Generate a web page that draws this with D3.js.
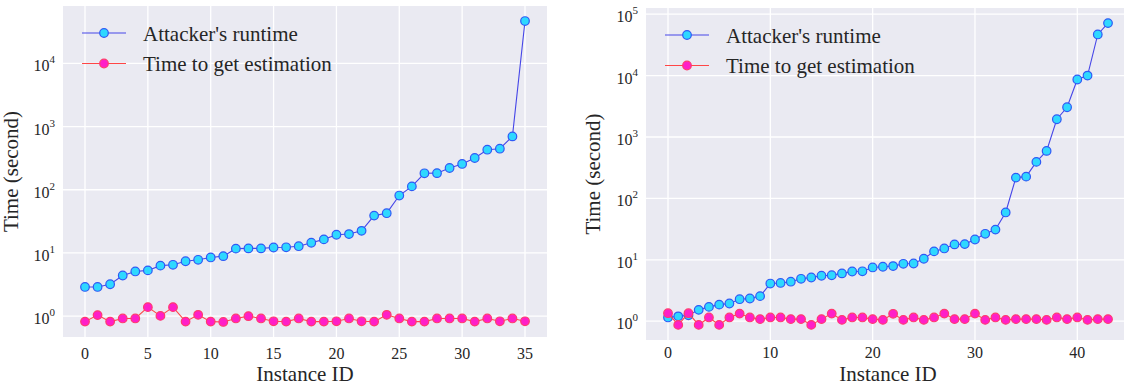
<!DOCTYPE html>
<html lang="en">
<head>
<meta charset="utf-8">
<title>Attacker runtime vs estimation time</title>
<script src="https://d3js.org/d3.v7.min.js"></script>
<style>
  body { margin: 0; background: #fff; }
  text { font-family: "Liberation Serif", "DejaVu Serif", serif; fill: #262626; }
</style>
</head>
<body>
<script>
// left panel: 36 instances
var leftRuntime = [2.9, 2.9, 3.2, 4.4, 5.1, 5.3, 6.3, 6.5, 7.4, 7.8, 8.5, 8.9,
  11.7, 11.8, 11.8, 12.2, 12.3, 12.8, 14.5, 16.4, 19.4, 19.9, 22.4, 39, 42.6,
  81, 113, 182, 183, 221, 256, 318, 430, 446, 698, 46700];
var leftEstimate = [0.82, 1.04, 0.82, 0.92, 0.92, 1.39, 1.01, 1.39, 0.82, 1.05,
  0.82, 0.81, 0.92, 1.0, 0.92, 0.83, 0.82, 0.92, 0.82, 0.82, 0.83, 0.92, 0.83,
  0.82, 1.05, 0.92, 0.82, 0.82, 0.92, 0.92, 0.92, 0.82, 0.92, 0.83, 0.92, 0.83];
var leftTicks = [0, 5, 10, 15, 20, 25, 30, 35];

// right panel: 44 instances
var rightRuntime = [1.15, 1.2, 1.25, 1.53, 1.71, 1.86, 1.94, 2.28, 2.34, 2.56,
  4.1, 4.2, 4.4, 4.9, 5.15, 5.5, 5.6, 6.0, 6.45, 6.5, 7.5, 7.7, 7.9, 8.6, 8.7,
  10.4, 13.7, 15.3, 17.8, 18, 21.4, 26.5, 31, 59, 218, 226, 393, 593, 1945,
  3050, 8630, 10000, 46800, 71600];
var rightEstimate = [1.35, 0.87, 1.35, 0.87, 1.15, 0.87, 1.15, 1.33, 1.15, 1.08,
  1.15, 1.15, 1.08, 1.08, 0.87, 1.08, 1.33, 1.05, 1.15, 1.15, 1.08, 1.05, 1.32,
  1.05, 1.15, 1.05, 1.15, 1.33, 1.08, 1.08, 1.33, 1.05, 1.15, 1.05, 1.08, 1.08,
  1.08, 1.05, 1.15, 1.08, 1.15, 1.05, 1.08, 1.08];
var rightTicks = [0, 10, 20, 30, 40];

var seriesNames = ["Attacker's runtime", "Time to get estimation"];

var W = 1124, H = 385;
var svg = d3.select('body').append('svg')
    .attr('width', W)
    .attr('height', H);

var styles = [
  {line: '#4646e8', fill: '#2ed8ff', stroke: '#2f5af5'},
  {line: '#ff4646', fill: '#ff1fc8', stroke: '#ff3a6e'}
];
var R = 4.3;

function panel(box, runtime, estimate, xticks) {
  var n = runtime.length - 1;
  var all = runtime.concat(estimate).map(function(v){ return Math.log10(v); });
  var lo = d3.min(all), hi = d3.max(all), pad = (hi - lo) * 0.05;

  var x = d3.scaleLinear().domain([-n * 0.05, n * 1.05]).range([0, box.w]);
  var y = d3.scaleLog().domain([Math.pow(10, lo - pad), Math.pow(10, hi + pad)]).range([box.h, 0]);

  var clipId = 'clip' + box.x;
  svg.append('clipPath').attr('id', clipId)
    .append('rect').attr('width', box.w).attr('height', box.h);

  var g = svg.append('g').attr('transform', 'translate(' + [box.x, box.y] + ')');
  g.append('rect').attr('width', box.w).attr('height', box.h).attr('fill', '#eaeaf2');

  var decades = d3.range(0, 6).map(function(e){ return Math.pow(10, e); })
    .filter(function(v){ return v >= y.domain()[0] && v <= y.domain()[1]; });

  var grid = g.append('g').attr('clip-path', 'url(#' + clipId + ')');
  grid.selectAll('.gy').data(decades).enter().append('line')
    .attr('x1', 0).attr('x2', box.w)
    .attr('y1', function(d){ return y(d); }).attr('y2', function(d){ return y(d); })
    .attr('stroke', '#fff').attr('stroke-width', 1.3);
  grid.selectAll('.gx').data(xticks).enter().append('line')
    .attr('y1', 0).attr('y2', box.h)
    .attr('x1', function(d){ return x(d); }).attr('x2', function(d){ return x(d); })
    .attr('stroke', '#fff').attr('stroke-width', 1.3);

  // x tick labels
  g.selectAll('.xt').data(xticks).enter().append('text')
    .attr('x', function(d){ return x(d); })
    .attr('y', box.h + box.xt)
    .attr('text-anchor', 'middle')
    .style('font-size', '16px')
    .text(function(d){ return d; });

  // y tick labels as 10^k
  var yt = g.selectAll('.yt').data(decades).enter().append('text')
    .attr('x', -8)
    .attr('y', function(d){ return y(d) + 8; })
    .attr('text-anchor', 'end')
    .style('font-size', '16px');
  yt.append('tspan').text('10');
  yt.append('tspan').attr('dy', -8).style('font-size', '11px')
    .text(function(d){ return Math.round(Math.log10(d)); });

  g.append('text')
    .attr('x', box.w / 2).attr('y', box.h + box.xlab)
    .attr('text-anchor', 'middle')
    .style('font-size', '21px')
    .text('Instance ID');
  g.append('text')
    .attr('transform', 'translate(' + [box.ylab, box.h / 2] + ') rotate(-90)')
    .attr('text-anchor', 'middle')
    .style('font-size', '21px')
    .text('Time (second)');

  var plot = g.append('g').attr('clip-path', 'url(#' + clipId + ')');
  [runtime, estimate].forEach(function(data, k) {
    var s = styles[k];
    var line = d3.line().x(function(d, i){ return x(i); }).y(function(d){ return y(d); });
    plot.append('path').datum(data)
      .attr('d', line).attr('fill', 'none')
      .attr('stroke', s.line).attr('stroke-width', 1.1);
    plot.selectAll('.m' + k).data(data).enter().append('circle')
      .attr('cx', function(d, i){ return x(i); })
      .attr('cy', function(d){ return y(d); })
      .attr('r', R)
      .attr('fill', s.fill).attr('stroke', s.stroke).attr('stroke-width', 1.2);
  });

  // legend
  var lg = g.append('g').attr('transform', 'translate(' + [box.legX, box.legY] + ')');
  seriesNames.forEach(function(name, k) {
    var s = styles[k];
    var row = lg.append('g').attr('transform', 'translate(0,' + k * 30.5 + ')');
    row.append('line').attr('x1', 0).attr('x2', 44)
      .attr('stroke', s.line).attr('stroke-width', 1.1);
    row.append('circle').attr('cx', 22).attr('r', R)
      .attr('fill', s.fill).attr('stroke', s.stroke).attr('stroke-width', 1.2);
    row.append('text').attr('x', 61).attr('y', 7.5)
      .style('font-size', '21px').text(name);
  });
}

panel({x: 63, y: 6, w: 484, h: 331, ylab: -45, xt: 22, xlab: 44, legX: 19, legY: 27},
  leftRuntime, leftEstimate, leftTicks);
panel({x: 646, y: 8, w: 484, h: 332, ylab: -46, xt: 18, xlab: 41, legX: 19, legY: 27},
  rightRuntime, rightEstimate, rightTicks);
</script>
</body>
</html>
